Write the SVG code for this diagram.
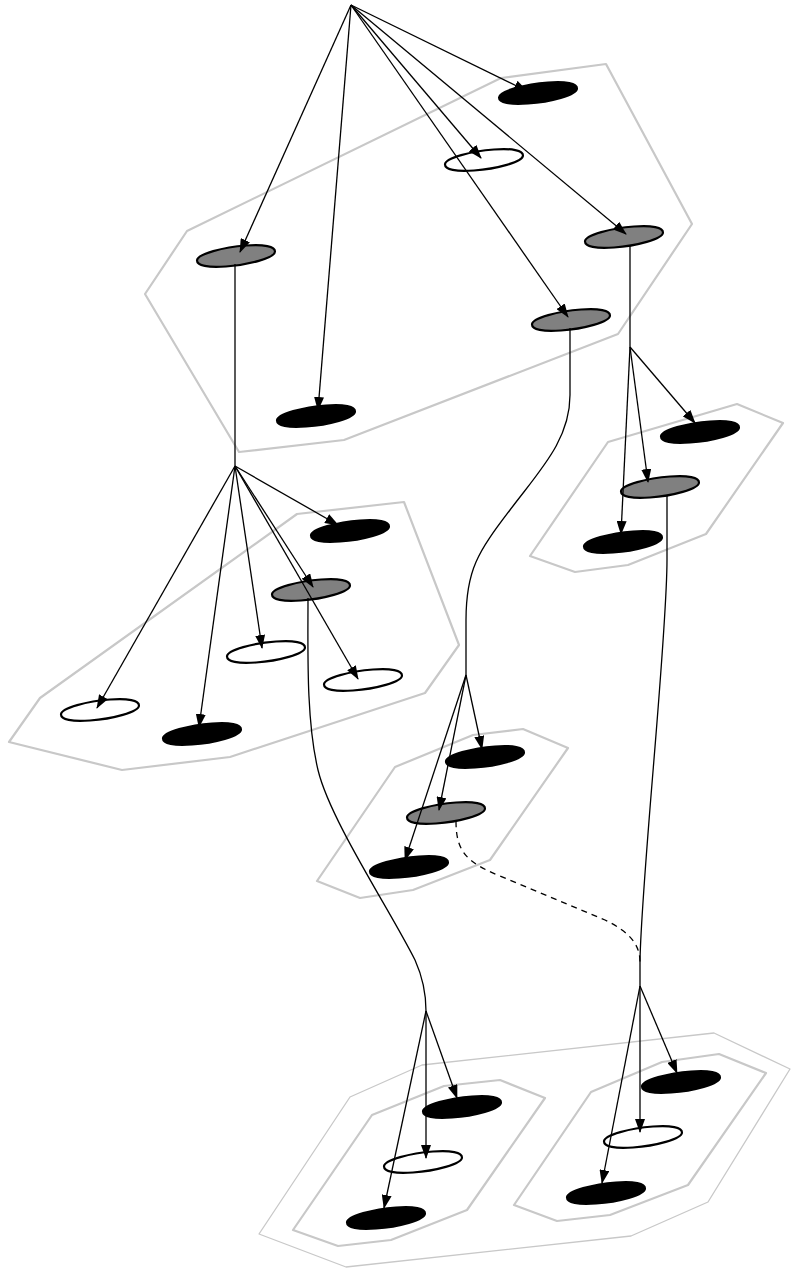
<svg xmlns="http://www.w3.org/2000/svg" xmlns:xlink="http://www.w3.org/1999/xlink" width="791" height="1270" viewBox="0 0 791 1270">
<style>
.cl{fill:none;stroke:#c8c8c8;stroke-width:2.2;stroke-linejoin:round}
.clo{fill:none;stroke:#c8c8c8;stroke-width:1.3;stroke-linejoin:round}
.node{stroke:#000;stroke-width:2.2}
.black{fill:#000}
.gray{fill:#808080}
.white{fill:#fff}
.e{fill:none;stroke:#000;stroke-width:1.3}
.a{marker-end:url(#arr)}
.d{stroke-dasharray:6,5}
</style>
<defs>
<marker id="arr" viewBox="0 0 14 10" refX="13" refY="5" markerWidth="14" markerHeight="10" orient="auto" markerUnits="userSpaceOnUse"><path d="M0,0 L14,5 L0,10 Z" fill="#000"/></marker>
<path id="nd" d="M -39,4.5 C -39,-2 -12,-9 10,-10.5 C 28,-12 39,-9.5 39,-4.5 C 39,2 12,9 -10,10.5 C -28,12 -39,9.5 -39,4.5 Z"/>
</defs>
<g id="clusters">
<polygon id="c1" class="cl" points="606,64 692,224 618,334 344,440 239,452 145,294 187,231 501,78"/>
<polygon id="c2" class="cl" points="9,742 40,698 297,514 404,502 459,645 425,693 230,757 122,770"/>
<polygon id="c4" class="cl" points="530,556 608,442 737,404 783,423 706,534 628,565 575,572"/>
<polygon id="c3" class="cl" points="317,881 395,767 473,735 523,729 568,748 490,860 413,890 360,898"/>
<polygon id="c5" class="clo" points="259,1234 350,1097 422,1065 714,1033 790,1069 708,1202 631,1236 346,1267"/>
<polygon id="c6" class="cl" points="293,1230 372,1115 444,1086 500,1080 545,1098 467,1210 391,1240 338,1246"/>
<polygon id="c7" class="cl" points="514,1205 591,1092 662,1062 719,1054 766,1073 688,1185 610,1215 557,1221"/>
</g>
<g id="n1" class="node gray"><use xlink:href="#nd" x="236" y="256"/></g>
<g id="n2" class="node black"><use xlink:href="#nd" x="316" y="416"/></g>
<g id="n3" class="node white"><use xlink:href="#nd" x="484" y="160"/></g>
<g id="n4" class="node gray"><use xlink:href="#nd" x="571" y="320"/></g>
<g id="n5" class="node gray"><use xlink:href="#nd" x="624" y="237"/></g>
<g id="n6" class="node black"><use xlink:href="#nd" x="538" y="93"/></g>
<g id="n7" class="node black"><use xlink:href="#nd" x="350" y="531"/></g>
<g id="n8" class="node gray"><use xlink:href="#nd" x="311" y="590"/></g>
<g id="n9" class="node white"><use xlink:href="#nd" x="266" y="652"/></g>
<g id="n10" class="node white"><use xlink:href="#nd" x="363" y="680"/></g>
<g id="n11" class="node white"><use xlink:href="#nd" x="100" y="710"/></g>
<g id="n12" class="node black"><use xlink:href="#nd" x="202" y="734"/></g>
<g id="n13" class="node black"><use xlink:href="#nd" x="700" y="432"/></g>
<g id="n14" class="node gray"><use xlink:href="#nd" x="660" y="487"/></g>
<g id="n15" class="node black"><use xlink:href="#nd" x="623" y="542"/></g>
<g id="n16" class="node black"><use xlink:href="#nd" x="485" y="757"/></g>
<g id="n17" class="node gray"><use xlink:href="#nd" x="446" y="813"/></g>
<g id="n18" class="node black"><use xlink:href="#nd" x="409" y="867"/></g>
<g id="n19" class="node black"><use xlink:href="#nd" x="462" y="1107"/></g>
<g id="n20" class="node white"><use xlink:href="#nd" x="423" y="1162"/></g>
<g id="n21" class="node black"><use xlink:href="#nd" x="386" y="1218"/></g>
<g id="n22" class="node black"><use xlink:href="#nd" x="681" y="1082"/></g>
<g id="n23" class="node white"><use xlink:href="#nd" x="643" y="1137"/></g>
<g id="n24" class="node black"><use xlink:href="#nd" x="606" y="1193"/></g>
<g id="edges">
<path class="e a" d="M351,5 L240,252"/>
<path class="e a" d="M351,5 L318,410"/>
<path class="e a" d="M351,5 L481,158"/>
<path class="e a" d="M351,5 L568,317"/>
<path class="e a" d="M351,5 L626,234"/>
<path class="e a" d="M351,5 L527,91"/>
<path class="e" d="M235,264 L235,466"/>
<path class="e a" d="M235,466 L338,525"/>
<path class="e a" d="M235,466 L313,587"/>
<path class="e a" d="M235,466 L262,648"/>
<path class="e a" d="M235,466 L358,679"/>
<path class="e a" d="M235,466 L97,708"/>
<path class="e a" d="M235,466 L199,727"/>
<path class="e" d="M630,245 L630,347"/>
<path class="e a" d="M630,347 L695,423"/>
<path class="e a" d="M630,347 L648,482"/>
<path class="e a" d="M630,347 L621,534"/>
<path class="e" d="M570,328 L570,395 C570,440 540,470 510,510 C478,552 466,570 466,620 L466,675"/>
<path class="e a" d="M466,675 L482,749"/>
<path class="e a" d="M466,675 L439,810"/>
<path class="e a" d="M466,675 L405,860"/>
<path class="e" d="M308,598 C308,650 306,720 318,770 C330,820 390,910 415,960 C424,980 426,995 426,1011"/>
<path class="e a" d="M426,1011 L457,1098"/>
<path class="e a" d="M426,1011 L426,1158"/>
<path class="e a" d="M426,1011 L384,1208"/>
<path class="e" d="M667,495 L667,560 C667,640 642,870 640,960 L640,986"/>
<path class="e d" d="M456,821 C456,850 465,862 500,876 L605,920 C630,932 640,945 640,962"/>
<path class="e a" d="M640,986 L677,1073"/>
<path class="e a" d="M640,986 L640,1132"/>
<path class="e a" d="M640,986 L602,1183"/>
</g>
</svg>
